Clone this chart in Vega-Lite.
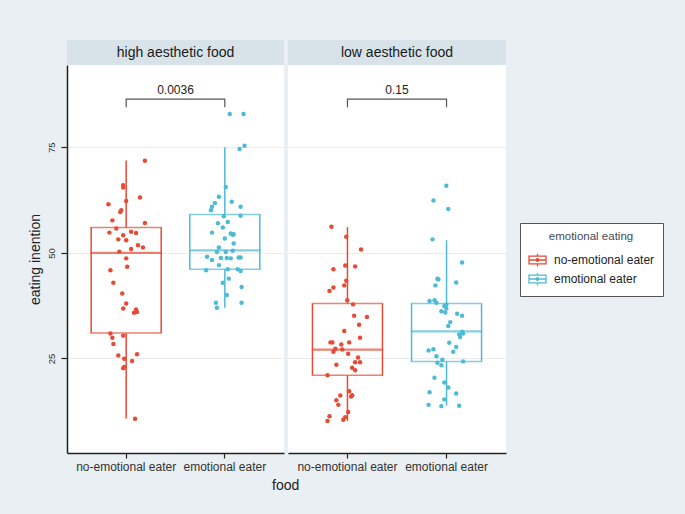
{
  "$schema": "https://vega.github.io/schema/vega-lite/v6.json",
  "background": "#e9eff2",
  "padding": {"left": 28, "top": 40, "right": 24, "bottom": 21},
  "config": {
    "font": "Liberation Sans",
    "view": {"stroke": null},
    "axis": {"labelColor": "#333", "titleColor": "#222", "titleFontWeight": "normal", "domainColor": "#222", "domainWidth": 1.5, "tickColor": "#222", "tickWidth": 1.2, "gridColor": "#ececec", "gridWidth": 1}
  },
  "datasets": {
    "boxes": [
      {"food": "high", "group": "no-emotional eater", "lower": 10.8, "q1": 31.0, "median": 50.0, "q3": 56.0, "upper": 71.9},
      {"food": "high", "group": "emotional eater", "lower": 37.0, "q1": 46.1, "median": 50.6, "q3": 59.1, "upper": 75.0},
      {"food": "low", "group": "no-emotional eater", "lower": 10.2, "q1": 21.0, "median": 27.1, "q3": 38.0, "upper": 56.1},
      {"food": "low", "group": "emotional eater", "lower": 13.8, "q1": 24.3, "median": 31.4, "q3": 38.0, "upper": 53.0}
    ],
    "bracket": [
      {"food": "high", "group": "no-emotional eater", "y": 84.5, "k": 1},
      {"food": "high", "group": "no-emotional eater", "y": 86.4, "k": 2},
      {"food": "high", "group": "emotional eater", "y": 86.4, "k": 3},
      {"food": "high", "group": "emotional eater", "y": 84.5, "k": 4},
      {"food": "low", "group": "no-emotional eater", "y": 84.5, "k": 1},
      {"food": "low", "group": "no-emotional eater", "y": 86.4, "k": 2},
      {"food": "low", "group": "emotional eater", "y": 86.4, "k": 3},
      {"food": "low", "group": "emotional eater", "y": 84.5, "k": 4}
    ],
    "plabel": [
      {"food": "high", "p": "0.0036", "y": 86.9},
      {"food": "low", "p": "0.15", "y": 86.9}
    ],
    "points": [
      {"food": "high", "group": "no-emotional eater", "v": 71.8, "j": 0.19},
      {"food": "high", "group": "no-emotional eater", "v": 66.0, "j": -0.03},
      {"food": "high", "group": "no-emotional eater", "v": 65.5, "j": -0.03},
      {"food": "high", "group": "no-emotional eater", "v": 62.3, "j": 0.0},
      {"food": "high", "group": "no-emotional eater", "v": 63.1, "j": 0.14},
      {"food": "high", "group": "no-emotional eater", "v": 61.5, "j": -0.18},
      {"food": "high", "group": "no-emotional eater", "v": 60.1, "j": -0.05},
      {"food": "high", "group": "no-emotional eater", "v": 59.7, "j": -0.06},
      {"food": "high", "group": "no-emotional eater", "v": 57.1, "j": 0.19},
      {"food": "high", "group": "no-emotional eater", "v": 57.7, "j": -0.14},
      {"food": "high", "group": "no-emotional eater", "v": 55.8, "j": -0.10},
      {"food": "high", "group": "no-emotional eater", "v": 54.8, "j": -0.17},
      {"food": "high", "group": "no-emotional eater", "v": 55.0, "j": 0.05},
      {"food": "high", "group": "no-emotional eater", "v": 54.7, "j": 0.10},
      {"food": "high", "group": "no-emotional eater", "v": 54.2, "j": -0.03},
      {"food": "high", "group": "no-emotional eater", "v": 53.2, "j": -0.08},
      {"food": "high", "group": "no-emotional eater", "v": 53.0, "j": 0.0},
      {"food": "high", "group": "no-emotional eater", "v": 51.8, "j": 0.12},
      {"food": "high", "group": "no-emotional eater", "v": 51.3, "j": 0.17},
      {"food": "high", "group": "no-emotional eater", "v": 50.9, "j": 0.05},
      {"food": "high", "group": "no-emotional eater", "v": 50.3, "j": -0.07},
      {"food": "high", "group": "no-emotional eater", "v": 48.7, "j": 0.0},
      {"food": "high", "group": "no-emotional eater", "v": 46.7, "j": 0.01},
      {"food": "high", "group": "no-emotional eater", "v": 45.9, "j": -0.16},
      {"food": "high", "group": "no-emotional eater", "v": 42.9, "j": -0.13},
      {"food": "high", "group": "no-emotional eater", "v": 40.4, "j": -0.04},
      {"food": "high", "group": "no-emotional eater", "v": 38.0, "j": 0.0},
      {"food": "high", "group": "no-emotional eater", "v": 36.8, "j": -0.03},
      {"food": "high", "group": "no-emotional eater", "v": 36.6, "j": 0.10},
      {"food": "high", "group": "no-emotional eater", "v": 35.8, "j": 0.08},
      {"food": "high", "group": "no-emotional eater", "v": 36.0, "j": 0.11},
      {"food": "high", "group": "no-emotional eater", "v": 30.9, "j": -0.16},
      {"food": "high", "group": "no-emotional eater", "v": 29.9, "j": -0.14},
      {"food": "high", "group": "no-emotional eater", "v": 28.4, "j": -0.13},
      {"food": "high", "group": "no-emotional eater", "v": 30.4, "j": -0.03},
      {"food": "high", "group": "no-emotional eater", "v": 25.7, "j": -0.08},
      {"food": "high", "group": "no-emotional eater", "v": 26.0, "j": 0.11},
      {"food": "high", "group": "no-emotional eater", "v": 24.9, "j": -0.02},
      {"food": "high", "group": "no-emotional eater", "v": 24.4, "j": 0.06},
      {"food": "high", "group": "no-emotional eater", "v": 22.7, "j": -0.03},
      {"food": "high", "group": "no-emotional eater", "v": 23.0, "j": -0.02},
      {"food": "high", "group": "no-emotional eater", "v": 10.7, "j": 0.09},
      {"food": "high", "group": "emotional eater", "v": 82.9, "j": 0.05},
      {"food": "high", "group": "emotional eater", "v": 82.9, "j": 0.19},
      {"food": "high", "group": "emotional eater", "v": 74.6, "j": 0.15},
      {"food": "high", "group": "emotional eater", "v": 75.4, "j": 0.20},
      {"food": "high", "group": "emotional eater", "v": 65.6, "j": 0.01},
      {"food": "high", "group": "emotional eater", "v": 63.3, "j": -0.06},
      {"food": "high", "group": "emotional eater", "v": 61.8, "j": -0.10},
      {"food": "high", "group": "emotional eater", "v": 60.9, "j": -0.13},
      {"food": "high", "group": "emotional eater", "v": 60.1, "j": -0.14},
      {"food": "high", "group": "emotional eater", "v": 62.1, "j": 0.07},
      {"food": "high", "group": "emotional eater", "v": 60.9, "j": 0.16},
      {"food": "high", "group": "emotional eater", "v": 58.7, "j": -0.01},
      {"food": "high", "group": "emotional eater", "v": 58.8, "j": 0.16},
      {"food": "high", "group": "emotional eater", "v": 57.0, "j": -0.07},
      {"food": "high", "group": "emotional eater", "v": 57.3, "j": 0.03},
      {"food": "high", "group": "emotional eater", "v": 56.0, "j": -0.02},
      {"food": "high", "group": "emotional eater", "v": 54.8, "j": -0.13},
      {"food": "high", "group": "emotional eater", "v": 54.6, "j": 0.06},
      {"food": "high", "group": "emotional eater", "v": 54.3, "j": 0.08},
      {"food": "high", "group": "emotional eater", "v": 54.4, "j": 0.09},
      {"food": "high", "group": "emotional eater", "v": 53.4, "j": 0.0},
      {"food": "high", "group": "emotional eater", "v": 52.2, "j": 0.09},
      {"food": "high", "group": "emotional eater", "v": 51.3, "j": -0.06},
      {"food": "high", "group": "emotional eater", "v": 50.2, "j": -0.08},
      {"food": "high", "group": "emotional eater", "v": 50.2, "j": 0.01},
      {"food": "high", "group": "emotional eater", "v": 50.5, "j": 0.08},
      {"food": "high", "group": "emotional eater", "v": 49.1, "j": -0.18},
      {"food": "high", "group": "emotional eater", "v": 48.3, "j": -0.13},
      {"food": "high", "group": "emotional eater", "v": 48.8, "j": -0.04},
      {"food": "high", "group": "emotional eater", "v": 48.8, "j": 0.02},
      {"food": "high", "group": "emotional eater", "v": 48.7, "j": 0.06},
      {"food": "high", "group": "emotional eater", "v": 48.9, "j": 0.14},
      {"food": "high", "group": "emotional eater", "v": 48.9, "j": 0.16},
      {"food": "high", "group": "emotional eater", "v": 45.9, "j": -0.19},
      {"food": "high", "group": "emotional eater", "v": 47.1, "j": -0.06},
      {"food": "high", "group": "emotional eater", "v": 46.1, "j": 0.03},
      {"food": "high", "group": "emotional eater", "v": 46.1, "j": 0.13},
      {"food": "high", "group": "emotional eater", "v": 45.7, "j": 0.16},
      {"food": "high", "group": "emotional eater", "v": 43.9, "j": 0.04},
      {"food": "high", "group": "emotional eater", "v": 42.9, "j": -0.02},
      {"food": "high", "group": "emotional eater", "v": 41.9, "j": 0.17},
      {"food": "high", "group": "emotional eater", "v": 40.0, "j": 0.02},
      {"food": "high", "group": "emotional eater", "v": 38.2, "j": -0.09},
      {"food": "high", "group": "emotional eater", "v": 37.0, "j": -0.08},
      {"food": "high", "group": "emotional eater", "v": 38.2, "j": 0.17},
      {"food": "low", "group": "no-emotional eater", "v": 56.2, "j": -0.16},
      {"food": "low", "group": "no-emotional eater", "v": 53.8, "j": -0.01},
      {"food": "low", "group": "no-emotional eater", "v": 50.8, "j": 0.14},
      {"food": "low", "group": "no-emotional eater", "v": 46.1, "j": -0.14},
      {"food": "low", "group": "no-emotional eater", "v": 47.0, "j": -0.02},
      {"food": "low", "group": "no-emotional eater", "v": 46.8, "j": 0.08},
      {"food": "low", "group": "no-emotional eater", "v": 43.4, "j": -0.01},
      {"food": "low", "group": "no-emotional eater", "v": 42.3, "j": -0.03},
      {"food": "low", "group": "no-emotional eater", "v": 41.8, "j": -0.14},
      {"food": "low", "group": "no-emotional eater", "v": 41.0, "j": -0.18},
      {"food": "low", "group": "no-emotional eater", "v": 38.8, "j": 0.0},
      {"food": "low", "group": "no-emotional eater", "v": 37.8, "j": 0.06},
      {"food": "low", "group": "no-emotional eater", "v": 35.1, "j": 0.07},
      {"food": "low", "group": "no-emotional eater", "v": 34.8, "j": 0.20},
      {"food": "low", "group": "no-emotional eater", "v": 33.0, "j": 0.12},
      {"food": "low", "group": "no-emotional eater", "v": 31.5, "j": -0.03},
      {"food": "low", "group": "no-emotional eater", "v": 29.9, "j": 0.13},
      {"food": "low", "group": "no-emotional eater", "v": 28.8, "j": -0.17},
      {"food": "low", "group": "no-emotional eater", "v": 28.8, "j": -0.15},
      {"food": "low", "group": "no-emotional eater", "v": 28.3, "j": -0.06},
      {"food": "low", "group": "no-emotional eater", "v": 28.8, "j": 0.02},
      {"food": "low", "group": "no-emotional eater", "v": 26.6, "j": -0.14},
      {"food": "low", "group": "no-emotional eater", "v": 27.1, "j": -0.05},
      {"food": "low", "group": "no-emotional eater", "v": 27.3, "j": -0.12},
      {"food": "low", "group": "no-emotional eater", "v": 26.1, "j": 0.01},
      {"food": "low", "group": "no-emotional eater", "v": 25.2, "j": 0.11},
      {"food": "low", "group": "no-emotional eater", "v": 24.1, "j": 0.13},
      {"food": "low", "group": "no-emotional eater", "v": 24.1, "j": 0.08},
      {"food": "low", "group": "no-emotional eater", "v": 23.5, "j": -0.11},
      {"food": "low", "group": "no-emotional eater", "v": 22.8, "j": 0.05},
      {"food": "low", "group": "no-emotional eater", "v": 22.2, "j": 0.08},
      {"food": "low", "group": "no-emotional eater", "v": 21.0, "j": -0.20},
      {"food": "low", "group": "no-emotional eater", "v": 17.2, "j": 0.02},
      {"food": "low", "group": "no-emotional eater", "v": 16.3, "j": 0.05},
      {"food": "low", "group": "no-emotional eater", "v": 16.0, "j": 0.04},
      {"food": "low", "group": "no-emotional eater", "v": 16.2, "j": -0.07},
      {"food": "low", "group": "no-emotional eater", "v": 15.1, "j": -0.11},
      {"food": "low", "group": "no-emotional eater", "v": 14.0, "j": -0.09},
      {"food": "low", "group": "no-emotional eater", "v": 12.3, "j": 0.01},
      {"food": "low", "group": "no-emotional eater", "v": 11.3, "j": -0.18},
      {"food": "low", "group": "no-emotional eater", "v": 11.1, "j": -0.02},
      {"food": "low", "group": "no-emotional eater", "v": 10.5, "j": -0.04},
      {"food": "low", "group": "no-emotional eater", "v": 10.2, "j": -0.20},
      {"food": "low", "group": "emotional eater", "v": 65.9, "j": 0.0},
      {"food": "low", "group": "emotional eater", "v": 62.4, "j": -0.13},
      {"food": "low", "group": "emotional eater", "v": 60.4, "j": 0.02},
      {"food": "low", "group": "emotional eater", "v": 53.2, "j": -0.14},
      {"food": "low", "group": "emotional eater", "v": 47.7, "j": 0.16},
      {"food": "low", "group": "emotional eater", "v": 43.9, "j": -0.09},
      {"food": "low", "group": "emotional eater", "v": 43.7, "j": -0.08},
      {"food": "low", "group": "emotional eater", "v": 43.0, "j": 0.10},
      {"food": "low", "group": "emotional eater", "v": 42.3, "j": -0.11},
      {"food": "low", "group": "emotional eater", "v": 38.8, "j": -0.12},
      {"food": "low", "group": "emotional eater", "v": 38.6, "j": -0.17},
      {"food": "low", "group": "emotional eater", "v": 38.2, "j": -0.10},
      {"food": "low", "group": "emotional eater", "v": 37.4, "j": -0.02},
      {"food": "low", "group": "emotional eater", "v": 37.7, "j": 0.0},
      {"food": "low", "group": "emotional eater", "v": 36.8, "j": 0.0},
      {"food": "low", "group": "emotional eater", "v": 36.2, "j": -0.05},
      {"food": "low", "group": "emotional eater", "v": 35.9, "j": -0.01},
      {"food": "low", "group": "emotional eater", "v": 35.6, "j": 0.11},
      {"food": "low", "group": "emotional eater", "v": 35.1, "j": 0.16},
      {"food": "low", "group": "emotional eater", "v": 33.6, "j": 0.04},
      {"food": "low", "group": "emotional eater", "v": 32.7, "j": 0.02},
      {"food": "low", "group": "emotional eater", "v": 31.3, "j": 0.16},
      {"food": "low", "group": "emotional eater", "v": 30.7, "j": 0.13},
      {"food": "low", "group": "emotional eater", "v": 30.9, "j": 0.17},
      {"food": "low", "group": "emotional eater", "v": 30.1, "j": 0.14},
      {"food": "low", "group": "emotional eater", "v": 28.7, "j": 0.03},
      {"food": "low", "group": "emotional eater", "v": 27.7, "j": 0.10},
      {"food": "low", "group": "emotional eater", "v": 26.9, "j": -0.18},
      {"food": "low", "group": "emotional eater", "v": 27.2, "j": -0.13},
      {"food": "low", "group": "emotional eater", "v": 26.6, "j": 0.07},
      {"food": "low", "group": "emotional eater", "v": 25.5, "j": -0.10},
      {"food": "low", "group": "emotional eater", "v": 24.7, "j": -0.04},
      {"food": "low", "group": "emotional eater", "v": 24.0, "j": -0.09},
      {"food": "low", "group": "emotional eater", "v": 24.3, "j": 0.17},
      {"food": "low", "group": "emotional eater", "v": 23.4, "j": -0.05},
      {"food": "low", "group": "emotional eater", "v": 20.4, "j": -0.12},
      {"food": "low", "group": "emotional eater", "v": 19.3, "j": -0.02},
      {"food": "low", "group": "emotional eater", "v": 18.1, "j": 0.02},
      {"food": "low", "group": "emotional eater", "v": 17.0, "j": -0.17},
      {"food": "low", "group": "emotional eater", "v": 16.7, "j": 0.10},
      {"food": "low", "group": "emotional eater", "v": 15.3, "j": -0.02},
      {"food": "low", "group": "emotional eater", "v": 14.0, "j": -0.18},
      {"food": "low", "group": "emotional eater", "v": 13.7, "j": -0.05},
      {"food": "low", "group": "emotional eater", "v": 13.8, "j": 0.13}
    ]
  },
  "title": {"text": "food", "orient": "bottom", "anchor": "start", "frame": "group", "dx": 205, "offset": 7, "fontSize": 14, "fontWeight": "normal", "color": "#222"},
  "columns": 2,
  "spacing": {"row": 0, "column": 4},
  "resolve": {"scale": {"color": "shared"}, "legend": {"color": "shared"}},
  "concat": [
    {
      "width": 217, "height": 25,
      "view": {"fill": "#d7e3e9", "stroke": null},
      "data": {"values": [{"lab": "high aesthetic food"}]},
      "mark": {"type": "text", "fontSize": 14, "color": "#1a1a1a"},
      "encoding": {"text": {"field": "lab"}}
    },
    {
      "width": 218, "height": 25,
      "view": {"fill": "#d7e3e9", "stroke": null},
      "data": {"values": [{"lab": "low aesthetic food"}]},
      "mark": {"type": "text", "fontSize": 14, "color": "#1a1a1a"},
      "encoding": {"text": {"field": "lab"}}
    },
    {
      "width": 217, "height": 388,
      "view": {"fill": "white", "stroke": null},
      "encoding": {
        "x": {"field": "group", "type": "nominal", "scale": {"domain": ["no-emotional eater", "emotional eater"], "paddingInner": 0, "paddingOuter": 0.1},
              "axis": {"title": null, "labelAngle": 0, "labelFontSize": 12, "labelPadding": 3, "tickSize": 5, "grid": false}}
      },
      "layer": [
        {
          "data": {"name": "boxes"}, "transform": [{"filter": "datum.food === 'high'"}],
          "mark": {"type": "rule", "strokeWidth": 1.5},
          "encoding": {
            "y": {"field": "lower", "type": "quantitative", "title": "eating inention", "scale": {"domain": [2.6, 94.5], "nice": false, "zero": false},
                  "axis": {"title": "eating inention", "titleFontSize": 14, "titlePadding": 4, "values": [25, 50, 75], "labelAngle": 270, "labelAlign": "center", "labelBaseline": "bottom", "labelFontSize": 9.5, "labelPadding": 5, "tickSize": 6, "grid": true}},
            "y2": {"field": "q1"},
            "color": {"field": "group", "type": "nominal", "scale": {"domain": ["no-emotional eater", "emotional eater"], "range": ["#E64B35", "#4DBBD5"]},
                      "legend": {"title": "emotional eating", "orient": "none", "legendX": 453, "legendY": 183,
                                 "symbolType": "M-1,-0.45H1V0.45H-1Z M-1,0H1 M0,-0.45V-0.75 M0,0.45V0.75 M0.15,0A0.15,0.15 0 1 1 -0.15,0A0.15,0.15 0 1 1 0.15,0Z",
                                 "symbolSize": 289, "symbolStrokeWidth": 1.3, "symbolFillColor": "transparent", "labelFontSize": 12, "labelColor": "#222", "labelOffset": 7,
                                 "titleFontSize": 11.5, "titleFontWeight": "normal", "titleColor": "#3f4b57", "titleAnchor": "middle",
                                 "strokeColor": "#555", "fillColor": "white", "padding": 8, "rowPadding": 0, "titlePadding": 8}}
          }
        },
        {
          "data": {"name": "boxes"}, "transform": [{"filter": "datum.food === 'high'"}],
          "mark": {"type": "rule", "strokeWidth": 1.5},
          "encoding": {"y": {"field": "q3", "type": "quantitative", "title": "eating inention"}, "y2": {"field": "upper"}, "color": {"field": "group", "type": "nominal"}}
        },
        {
          "data": {"name": "boxes"}, "transform": [{"filter": "datum.food === 'high'"}],
          "mark": {"type": "rule", "strokeWidth": 1.5, "xOffset": -35},
          "encoding": {"y": {"field": "q1", "type": "quantitative", "title": "eating inention"}, "y2": {"field": "q3"}, "color": {"field": "group", "type": "nominal"}}
        },
        {
          "data": {"name": "boxes"}, "transform": [{"filter": "datum.food === 'high'"}],
          "mark": {"type": "rule", "strokeWidth": 1.5, "xOffset": 35},
          "encoding": {"y": {"field": "q1", "type": "quantitative", "title": "eating inention"}, "y2": {"field": "q3"}, "color": {"field": "group", "type": "nominal"}}
        },
        {
          "data": {"name": "boxes"}, "transform": [{"filter": "datum.food === 'high'"}],
          "mark": {"type": "tick", "orient": "horizontal", "thickness": 1.5, "size": 71.5},
          "encoding": {"y": {"field": "q1", "type": "quantitative", "title": "eating inention"},
                       "fill": {"condition": {"test": "datum.group === 'emotional eater'", "value": "#4DBBD5"}, "value": "#E64B35"}}
        },
        {
          "data": {"name": "boxes"}, "transform": [{"filter": "datum.food === 'high'"}],
          "mark": {"type": "tick", "orient": "horizontal", "thickness": 1.5, "size": 71.5},
          "encoding": {"y": {"field": "q3", "type": "quantitative", "title": "eating inention"},
                       "fill": {"condition": {"test": "datum.group === 'emotional eater'", "value": "#4DBBD5"}, "value": "#E64B35"}}
        },
        {
          "data": {"name": "boxes"}, "transform": [{"filter": "datum.food === 'high'"}],
          "mark": {"type": "tick", "orient": "horizontal", "thickness": 2.2, "size": 71.5},
          "encoding": {"y": {"field": "median", "type": "quantitative", "title": "eating inention"},
                       "fill": {"condition": {"test": "datum.group === 'emotional eater'", "value": "#4DBBD5"}, "value": "#E64B35"}}
        },
        {
          "data": {"name": "points"}, "transform": [{"filter": "datum.food === 'high'"}],
          "mark": {"type": "circle", "size": 20, "opacity": 1},
          "encoding": {
            "xOffset": {"field": "j", "type": "quantitative", "scale": {"domain": [-0.5, 0.5]}},
            "y": {"field": "v", "type": "quantitative", "title": "eating inention"},
            "fill": {"condition": {"test": "datum.group === 'emotional eater'", "value": "#4DBBD5"}, "value": "#E64B35"}
          }
        },
        {
          "data": {"name": "bracket"}, "transform": [{"filter": "datum.food === 'high'"}],
          "mark": {"type": "line", "strokeWidth": 1.2},
          "encoding": {
            "y": {"field": "y", "type": "quantitative", "title": "eating inention"},
            "color": {"value": "#555"},
            "order": {"field": "k", "type": "quantitative"}
          }
        },
        {
          "data": {"name": "plabel"}, "transform": [{"filter": "datum.food === 'high'"}],
          "mark": {"type": "text", "fontSize": 12, "baseline": "bottom"},
          "encoding": {
            "x": {"value": 108.5},
            "y": {"field": "y", "type": "quantitative", "title": "eating inention"},
            "color": {"value": "#222"},
            "text": {"field": "p"}
          }
        }
      ]
    },
    {
      "width": 218, "height": 388,
      "view": {"fill": "white", "stroke": null},
      "encoding": {
        "x": {"field": "group", "type": "nominal", "scale": {"domain": ["no-emotional eater", "emotional eater"], "paddingInner": 0, "paddingOuter": 0.1},
              "axis": {"title": null, "labelAngle": 0, "labelFontSize": 12, "labelPadding": 3, "tickSize": 5, "grid": false}}
      },
      "layer": [
        {
          "data": {"name": "boxes"}, "transform": [{"filter": "datum.food === 'low'"}],
          "mark": {"type": "rule", "strokeWidth": 1.5},
          "encoding": {
            "y": {"field": "lower", "type": "quantitative", "scale": {"domain": [2.6, 94.5], "nice": false, "zero": false},
                  "axis": {"title": null, "values": [25, 50, 75], "labels": false, "ticks": false, "domain": false, "grid": true}},
            "y2": {"field": "q1"},
            "color": {"field": "group", "type": "nominal"}
          }
        },
        {
          "data": {"name": "boxes"}, "transform": [{"filter": "datum.food === 'low'"}],
          "mark": {"type": "rule", "strokeWidth": 1.5},
          "encoding": {"y": {"field": "q3", "type": "quantitative"}, "y2": {"field": "upper"}, "color": {"field": "group", "type": "nominal"}}
        },
        {
          "data": {"name": "boxes"}, "transform": [{"filter": "datum.food === 'low'"}],
          "mark": {"type": "rule", "strokeWidth": 1.5, "xOffset": -35},
          "encoding": {"y": {"field": "q1", "type": "quantitative"}, "y2": {"field": "q3"}, "color": {"field": "group", "type": "nominal"}}
        },
        {
          "data": {"name": "boxes"}, "transform": [{"filter": "datum.food === 'low'"}],
          "mark": {"type": "rule", "strokeWidth": 1.5, "xOffset": 35},
          "encoding": {"y": {"field": "q1", "type": "quantitative"}, "y2": {"field": "q3"}, "color": {"field": "group", "type": "nominal"}}
        },
        {
          "data": {"name": "boxes"}, "transform": [{"filter": "datum.food === 'low'"}],
          "mark": {"type": "tick", "orient": "horizontal", "thickness": 1.5, "size": 71.5},
          "encoding": {"y": {"field": "q1", "type": "quantitative"},
                       "fill": {"condition": {"test": "datum.group === 'emotional eater'", "value": "#4DBBD5"}, "value": "#E64B35"}}
        },
        {
          "data": {"name": "boxes"}, "transform": [{"filter": "datum.food === 'low'"}],
          "mark": {"type": "tick", "orient": "horizontal", "thickness": 1.5, "size": 71.5},
          "encoding": {"y": {"field": "q3", "type": "quantitative"},
                       "fill": {"condition": {"test": "datum.group === 'emotional eater'", "value": "#4DBBD5"}, "value": "#E64B35"}}
        },
        {
          "data": {"name": "boxes"}, "transform": [{"filter": "datum.food === 'low'"}],
          "mark": {"type": "tick", "orient": "horizontal", "thickness": 2.2, "size": 71.5},
          "encoding": {"y": {"field": "median", "type": "quantitative"},
                       "fill": {"condition": {"test": "datum.group === 'emotional eater'", "value": "#4DBBD5"}, "value": "#E64B35"}}
        },
        {
          "data": {"name": "points"}, "transform": [{"filter": "datum.food === 'low'"}],
          "mark": {"type": "circle", "size": 20, "opacity": 1},
          "encoding": {
            "xOffset": {"field": "j", "type": "quantitative", "scale": {"domain": [-0.5, 0.5]}},
            "y": {"field": "v", "type": "quantitative"},
            "fill": {"condition": {"test": "datum.group === 'emotional eater'", "value": "#4DBBD5"}, "value": "#E64B35"}
          }
        },
        {
          "data": {"name": "bracket"}, "transform": [{"filter": "datum.food === 'low'"}],
          "mark": {"type": "line", "strokeWidth": 1.2},
          "encoding": {
            "y": {"field": "y", "type": "quantitative"},
            "color": {"value": "#555"},
            "order": {"field": "k", "type": "quantitative"}
          }
        },
        {
          "data": {"name": "plabel"}, "transform": [{"filter": "datum.food === 'low'"}],
          "mark": {"type": "text", "fontSize": 12, "baseline": "bottom"},
          "encoding": {
            "x": {"value": 109},
            "y": {"field": "y", "type": "quantitative"},
            "color": {"value": "#222"},
            "text": {"field": "p"}
          }
        }
      ]
    }
  ]
}
